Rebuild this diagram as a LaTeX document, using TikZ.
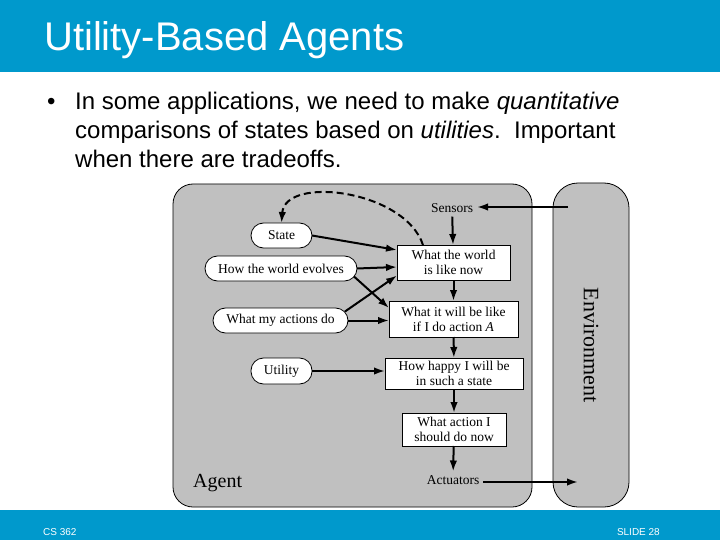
\documentclass[tikz,border=0pt]{standalone}
\usepackage{fontspec}
\setmainfont{Liberation Serif}
\newfontfamily\arialf{Liberation Sans}
\usetikzlibrary{arrows.meta}
\definecolor{slideblue}{HTML}{0099CC}
\definecolor{boxgray}{HTML}{C0C0C0}
\begin{document}
\begin{tikzpicture}[x=1pt,y=-1pt,
  bigbox/.style={draw=black, line width=0.8pt, fill=boxgray, outer sep=0pt},
  sqbox/.style={draw=black, line width=0.8pt, fill=white, outer sep=0pt, inner sep=0pt,
    align=center, font=\fontsize{13.5}{15}\selectfont},
  pill/.style={draw=black, line width=0.8pt, fill=white, outer sep=0pt, inner sep=0pt,
    minimum height=25pt, rounded corners=12.5pt, font=\fontsize{13.5}{15}\selectfont},
  plain/.style={inner sep=0pt, outer sep=0pt, font=\fontsize{13.5}{15}\selectfont},
  arr/.style={-{Latex[length=11pt,width=7.5pt]}, line width=2pt},
  darr/.style={-{Latex[length=11pt,width=7.5pt]}, line width=2pt, dash pattern=on 7pt off 4pt},
  slidetext/.style={font=\arialf\fontsize{24}{29}\selectfont, anchor=base west, inner sep=0pt}]
\useasboundingbox (0,0) rectangle (720,540);
\fill[white] (0,0) rectangle (720,540);
% header and footer
\fill[slideblue] (0,0) rectangle (720,72);
\fill[slideblue] (0,510) rectangle (720,540);
\node[anchor=base west, inner sep=0pt, text=white, font=\arialf\fontsize{40}{44}\selectfont] (title) at (44,51) {Utility-Based Agents};
\node[anchor=base west, inner sep=0pt, text=white, font=\arialf\fontsize{10}{12}\selectfont] (foot1) at (43,535) {CS 362};
\node[anchor=base east, inner sep=0pt, text=white, font=\arialf\fontsize{10}{12}\selectfont] (foot2) at (660,535) {SLIDE 28};
% bullet text
\node[slidetext] (bul) at (47,110) {\textbullet};
\node[slidetext] (l1) at (75,110) {In some applications, we need to make \textit{quantitative}};
\node[slidetext] (l2) at (75,139) {comparisons of states based on \textit{utilities}.\ \ Important};
\node[slidetext] (l3) at (75,168) {when there are tradeoffs.};
% big boxes
\node[bigbox, rounded corners=20pt, minimum width=359pt, minimum height=323pt] (agent) at (352.5,345.5) {};
\node[bigbox, rounded corners=25pt, minimum width=76pt, minimum height=324pt] (env) at (591,345) {};
\node[inner sep=0pt, rotate=-90, font=\fontsize{22}{24}\selectfont] (envlbl) at (591,345) {Environment};
\node[anchor=base west, inner sep=0pt, font=\fontsize{20}{24}\selectfont] (agentlbl) at (193,487) {Agent};
% inner nodes
\node[plain, inner sep=4pt] (sensors) at (452,208) {Sensors};
\node[plain, inner sep=4pt] (actuators) at (453,480) {Actuators};
\node[sqbox, minimum width=113pt, minimum height=35pt] (world) at (453.5,262.5) {What the world\\is like now};
\node[sqbox, minimum width=129pt, minimum height=36pt] (willbe) at (453.5,319) {What it will be like\\if I do action \textit{A}};
\node[sqbox, minimum width=138pt, minimum height=31pt] (happy) at (454,373.5) {How happy I will be\\in such a state};
\node[sqbox, minimum width=104pt, minimum height=33pt] (action) at (454,429.5) {What action I\\should do now};
\node[pill, minimum width=61pt] (state) at (281.5,235.5) {State};
\node[pill, minimum width=152pt] (evolves) at (281,268.5) {How the world evolves};
\node[pill, minimum width=135pt] (actions) at (280.5,320.5) {What my actions do};
\node[pill, minimum width=61pt, minimum height=26pt] (utility) at (281.5,371) {Utility};
\coordinate (envS) at (568,207);
\coordinate (envA) at (578,482);
% connectors
\draw[arr] (envS) -- (sensors.east |- envS);
\draw[arr] (sensors) -- (world);
\draw[arr] (world) -- (willbe);
\draw[arr] (willbe) -- (happy);
\draw[arr] (happy) -- (action);
\draw[arr] (action) -- (actuators);
\draw[arr] (actuators.east |- envA) -- (envA);
\draw[arr] (state.east) -- ([yshift=12.5pt]world.west);
\draw[arr] (evolves.east) -- ([yshift=-4.5pt]world.west);
\draw[arr] ([xshift=-3pt,yshift=9pt]actions.east) -- ([yshift=-13pt]world.west);
\draw[arr] ([xshift=-3pt,yshift=-8pt]evolves.east) -- ([yshift=11pt]willbe.west);
\draw[arr] (actions.east) -- (actions.east -| willbe.west);
\draw[arr] (utility.east) -- (utility.east -| happy.west);
\draw[darr] ([xshift=-30.5pt]world.north) .. controls (405,190) and (285,175) .. (state.north);
\end{tikzpicture}
\end{document}
